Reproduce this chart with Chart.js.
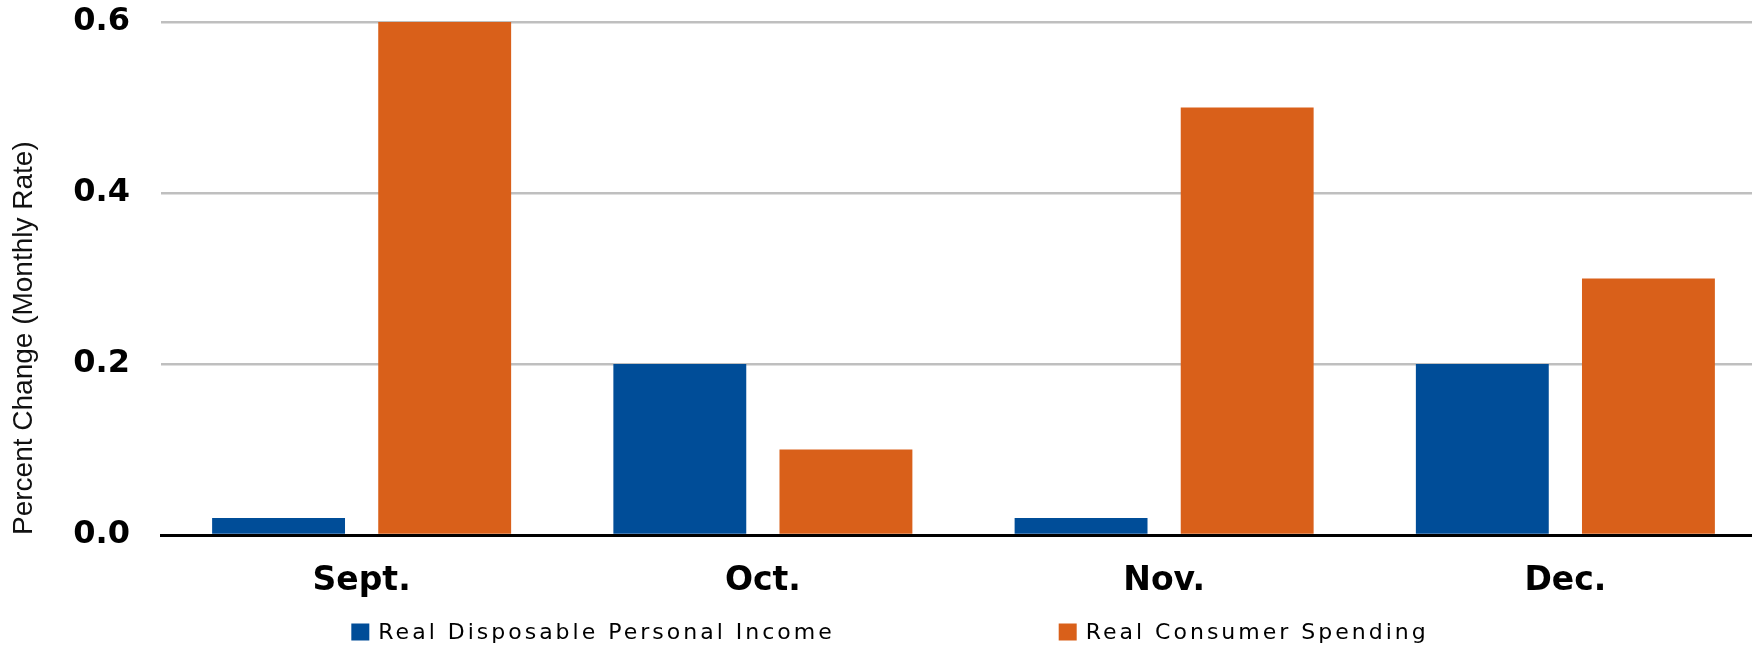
<!DOCTYPE html>
<html>
<head>
<meta charset="utf-8">
<script src="https://cdn.jsdelivr.net/npm/chart.js@4.4.1/dist/chart.umd.min.js"></script>
<style>
  html, body { margin: 0; padding: 0; background: #fff; }
  #frame { width: 1752px; height: 647px; overflow: hidden; }
  #box { width: 1766px; height: 647px; position: relative; }
</style>
</head>
<body>
<div id="frame"><div id="box"><canvas id="incomeChart"></canvas></div></div>
<script>
// data
const months = ['Sept.', 'Oct.', 'Nov.', 'Dec.'];
const incomeChange = [0.02, 0.2, 0.02, 0.2];
const spendingChange = [0.6, 0.1, 0.5, 0.3];
const seriesNames = ['Real Disposable Personal Income', 'Real Consumer Spending'];
const seriesColors = ['#004d98', '#d9601a'];
const yMin = 0, yMax = 0.6, yStep = 0.2;

// legend drawn by hand so letter spacing can match the original
const spacedLegend = {
  id: 'spacedLegend',
  afterDraw(chart) {
    const ctx = chart.ctx;
    const items = chart.data.datasets;
    const boxW = 18, boxH = 17, textGap = 9, itemGap = 224;
    ctx.save();
    ctx.font = '22px "DejaVu Sans"';
    if ('letterSpacing' in ctx) ctx.letterSpacing = '3px';
    const widths = items.map(d => boxW + textGap + ctx.measureText(d.label).width);
    const total = widths.reduce((a, b) => a + b, 0) + itemGap * (items.length - 1);
    let x = chart.width / 2 - total / 2 + 7;
    const y = chart.height - 15;
    items.forEach((d, i) => {
      ctx.fillStyle = d.backgroundColor;
      ctx.fillRect(x, y - boxH / 2, boxW, boxH);
      ctx.fillStyle = '#000';
      ctx.textBaseline = 'middle';
      ctx.textAlign = 'left';
      ctx.fillText(d.label, x + boxW + textGap, y + 1);
      x += widths[i] + itemGap;
    });
    ctx.restore();
  }
};

const ctx = document.getElementById('incomeChart').getContext('2d');
const chart = new Chart(ctx, {
  type: 'bar',
  data: {
    labels: months,
    datasets: [
      { label: seriesNames[0], data: incomeChange, backgroundColor: seriesColors[0] },
      { label: seriesNames[1], data: spendingChange, backgroundColor: seriesColors[1] }
    ]
  },
  options: {
    responsive: true,
    maintainAspectRatio: false,
    animation: false,
    categoryPercentage: 0.828,
    barPercentage: 0.8,
    layout: { padding: 0 },
    plugins: {
      legend: { display: false },
      tooltip: { enabled: false }
    },
    scales: {
      x: {
        grid: { display: false },
        border: { display: true, color: '#000', width: 3 },
        ticks: {
          color: '#000',
          padding: 19,
          font: { family: '"DejaVu Sans"', size: 33, weight: 'bold' }
        },
        afterFit(scale) { scale.height = 112; }
      },
      y: {
        min: yMin,
        max: yMax,
        grid: { color: '#bfbfbf', lineWidth: 2.5, drawTicks: false },
        border: { display: false },
        ticks: {
          stepSize: yStep,
          color: '#000',
          padding: 31,
          font: { family: '"DejaVu Sans"', size: 32, weight: 'bold' },
          callback: v => v.toFixed(1)
        },
        title: {
          display: true,
          text: 'Percent Change (Monthly Rate)',
          align: 'start',
          color: '#111',
          padding: { top: 7, bottom: 0 },
          font: { family: '"Liberation Sans"', size: 28 }
        },
        afterFit(scale) {
          scale.width = 161;
          scale.paddingTop = 22;
          scale.paddingBottom = 0;
        }
      }
    }
  },
  plugins: [spacedLegend]
});
</script>
</body>
</html>
